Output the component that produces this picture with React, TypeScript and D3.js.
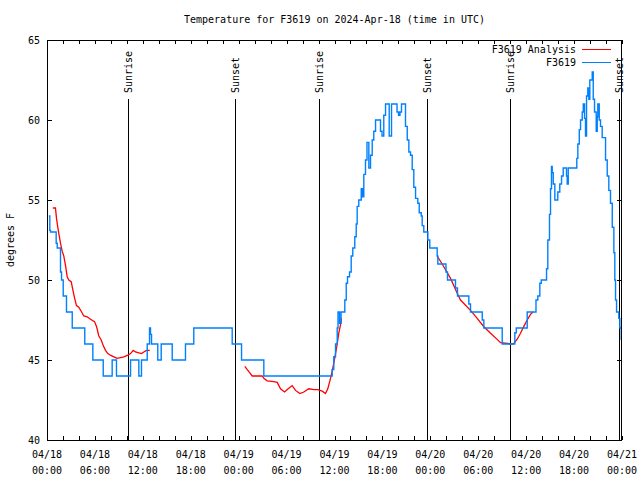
import React from "react";
import * as d3 from "d3";

// ---- data (hours since 2024-04-18 00:00 UTC) ----
const obsHours = [0.23,0.35,0.44,1.15,1.28,1.69,1.82,2.03,2.44,3.16,4.73,5.74,7.04,8.16,8.70,10.46,11.50,11.83,12.55,12.84,12.96,13.09,13.87,14.30,15.68,17.34,18.38,23.19,24.36,27.15,35.59,35.71,35.91,36.13,36.34,36.44,36.63,36.82,37.29,37.47,37.63,37.88,38.09,38.29,38.54,38.72,38.84,39.04,39.35,39.51,39.67,39.88,40.07,40.30,40.51,40.72,40.92,41.14,41.76,41.95,42.17,42.39,42.85,43.14,43.83,44.02,44.20,44.39,44.89,45.11,45.31,45.52,45.73,45.93,46.15,46.43,46.61,46.86,46.98,47.18,47.69,47.93,48.86,48.94,49.96,50.15,51.15,51.40,52.82,53.03,54.50,54.70,57.00,58.58,58.76,60.13,61.23,61.46,61.71,61.89,62.55,62.71,62.92,63.05,63.17,63.26,63.39,63.59,63.96,64.21,64.43,64.64,65.05,65.14,65.27,66.34,66.47,66.65,66.81,67.02,67.15,67.31,67.43,67.56,67.72,67.85,67.97,68.27,68.40,68.56,68.77,68.90,68.97,69.15,69.31,69.52,69.94,70.15,70.35,70.56,70.78,70.98,71.10,71.19,71.32,71.60,71.73,71.90,72.0];
const obsTemps = [54,53.1,53,52.3,52,50.5,50,49,48,47,46,45,44,45,44,45,44,45,46,47,46.6,46,45,46,45,46,47,46,45,44,44,44.4,45.2,46,47,48,47.3,48,48.75,49.8,50.2,50.5,51.5,52,52.7,53.5,54.6,55,55.7,55.2,56.6,57.5,58.6,57,57.8,58.75,59.3,60,59.3,59,60.3,61,59,61,60.5,60.3,60.5,61,59.6,58.75,58,57.8,56.9,55.8,55.1,54.8,54.2,54,53.4,53,52.5,52,51.5,51,50.5,50,49.5,49,48.5,48,47.5,47,46,46.7,47,48,48.75,49,49.8,50,50.7,52.5,54.1,55.7,57.1,56.7,56,55,55.5,56,56.5,57,56.5,56,57,57.6,58.5,59.4,60,60.5,61,60.1,59,61.5,62,61.3,62.5,63,61.3,60.5,59.3,60.2,61,60,59.6,58.9,57.5,56.5,55.6,54.8,53.3,51.7,50,48.75,48,47.6,47,46.3,46.3];

const anaHours1 = [0.73,1.06,1.19,1.35,1.48,1.69,1.90,2.10,2.32,2.53,2.73,3.03,3.23,3.44,3.69,3.98,4.28,4.61,5.03,5.45,5.95,6.20,6.49,6.79,7.04,7.33,7.61,7.95,8.36,8.79,9.20,9.62,10.12,10.46,10.79,11.08,11.50,11.83,12.12,12.46,12.87];
const anaTemps1 = [54.5,54.5,53.85,53.3,52.9,52.3,51.8,51.5,50.9,50.2,50,49.9,49.4,48.9,48.4,48.3,48.05,47.75,47.7,47.55,47.4,47.1,46.5,46.25,45.9,45.6,45.4,45.3,45.2,45.1,45.15,45.2,45.3,45.4,45.6,45.5,45.45,45.4,45.5,45.6,45.6];
const anaHours2 = [24.77,25.07,25.40,25.70,26.95,27.15,27.57,28.40,28.83,29.24,29.74,30.20,30.70,31.12,31.66,32.16,32.78,33.41,33.91,34.46,34.87,35.16,35.50,35.71,35.91,36.13,36.34,36.54,36.75,36.88];
const anaTemps2 = [44.6,44.4,44.2,44.0,44.0,43.85,43.7,43.65,43.6,43.2,43.0,43.2,43.4,43.1,42.9,43.0,43.2,43.15,43.15,43.05,42.9,43.2,43.85,44.3,44.8,45.4,46.0,46.7,47.2,47.6];
const anaHours3 = [48.86,49.69,50.53,51.37,51.78,53.03,53.87,54.70,55.54,56.37,56.79,58.25,58.45,58.88,59.29,59.71,60.13,60.54,60.86];
const anaTemps3 = [51.5,50.83,50.1,49.17,48.75,48.1,47.6,47.08,46.67,46.29,46.08,46.0,46.04,46.3,46.67,47.1,47.5,47.85,48.0];

const sunEvents = [
  { label: "Sunrise", time: "2024-04-18T10:06:00Z" },
  { label: "Sunset", time: "2024-04-18T23:32:00Z" },
  { label: "Sunrise", time: "2024-04-19T10:04:00Z" },
  { label: "Sunset", time: "2024-04-19T23:35:00Z" },
  { label: "Sunrise", time: "2024-04-20T10:02:00Z" },
  { label: "Sunset", time: "2024-04-20T23:36:00Z" },
];

const yTicks = [40, 45, 50, 55, 60, 65];
const title = "Temperature for F3619 on 2024-Apr-18 (time in UTC)";
const yLabel = "degrees F";
const legendNames = ["F3619 Analysis", "F3619"];
const colors = ["#ff0000", "#0080ff"];

const START = Date.UTC(2024, 3, 18, 0, 0);
const END = Date.UTC(2024, 3, 21, 0, 0);

const L = 47, R = 622, T = 40, B = 440;
const FONT = "'DejaVu Sans Mono', 'Liberation Mono', monospace";

export default function App() {
  const x = d3.scaleUtc().domain([new Date(START), new Date(END)]).range([L, R]);
  const y = d3.scaleLinear().domain([40, 65]).range([B, T]);
  const toDate = (h: number) => new Date(START + h * 3600e3);

  const obs = obsHours.map((h, i) => [toDate(h), obsTemps[i]] as [Date, number]);
  const stepLine = d3.line<[Date, number]>().x(d => x(d[0])).y(d => y(d[1])).curve(d3.curveStepAfter);
  const lin = d3.line<[Date, number]>().x(d => x(d[0])).y(d => y(d[1]));
  const segs = [
    [anaHours1, anaTemps1],
    [anaHours2, anaTemps2],
    [anaHours3, anaTemps3],
  ].map(([hs, ts]) => hs.map((h, i) => [toDate(h), ts[i]] as [Date, number]));

  const minor = d3.utcHour.every(2)!.range(new Date(START), new Date(END + 1));
  const major = d3.utcHour.every(6)!.range(new Date(START), new Date(END + 1));
  const fDay = d3.utcFormat("%m/%d");
  const fTime = d3.utcFormat("%H:%M");

  return (
    <svg width={640} height={480} style={{ position: "absolute", left: 0, top: 0, background: "#fff" }}
      fontFamily={FONT} fontSize={10}>
      <rect x={0} y={0} width={640} height={480} fill="#fff" />
      <text x={(L + R) / 2} y={23} textAnchor="middle" fill="#000">{title}</text>
      <text transform={`translate(14,${(T + B) / 2}) rotate(-90)`} textAnchor="middle" fill="#000">{yLabel}</text>

      <g shapeRendering="crispEdges" stroke="#000" strokeWidth={1}>
        {minor.map((d, i) => (
          <g key={i}>
            <line x1={Math.round(x(d)) + 0.5} x2={Math.round(x(d)) + 0.5} y1={B} y2={B - 4} />
            <line x1={Math.round(x(d)) + 0.5} x2={Math.round(x(d)) + 0.5} y1={T} y2={T + 4} />
          </g>
        ))}
        {yTicks.map((v, i) => (
          <g key={i}>
            <line x1={L} x2={L + 5} y1={Math.round(y(v)) + 0.5} y2={Math.round(y(v)) + 0.5} />
            <line x1={R} x2={R - 5} y1={Math.round(y(v)) + 0.5} y2={Math.round(y(v)) + 0.5} />
          </g>
        ))}
      </g>

      {yTicks.map((v, i) => (
        <text key={i} x={L - 7} y={y(v) + 4} textAnchor="end" fill="#000">{v}</text>
      ))}
      {major.map((d, i) => (
        <g key={i}>
          <text x={x(d)} y={458} textAnchor="middle" fill="#000">{fDay(d)}</text>
          <text x={x(d)} y={474} textAnchor="middle" fill="#000">{fTime(d)}</text>
        </g>
      ))}

      {sunEvents.map((s, i) => {
        const sx = Math.round(x(new Date(s.time))) + 0.5;
        return (
          <g key={i}>
            <line x1={sx} x2={sx} y1={99} y2={B} stroke="#000" strokeWidth={1} shapeRendering="crispEdges" />
            <text transform={`translate(${sx + 3},93) rotate(-90)`} textAnchor="start" fill="#000">{s.label}</text>
          </g>
        );
      })}

      {segs.map((sg, i) => (
        <path key={i} d={lin(sg)!} fill="none" stroke={colors[0]} strokeWidth={1.3} />
      ))}
      <path d={stepLine(obs)!} fill="none" stroke={colors[1]} strokeWidth={1.4} />

      {legendNames.map((n, i) => (
        <g key={i}>
          <text x={576} y={53 + i * 13} textAnchor="end" fill="#000">{n}</text>
          <line x1={582} x2={611} y1={49.5 + i * 13} y2={49.5 + i * 13} stroke={colors[i]} strokeWidth={1} shapeRendering="crispEdges" />
        </g>
      ))}

      <rect x={L + 0.5} y={T + 0.5} width={R - L - 1} height={B - T} fill="none" stroke="#000" strokeWidth={1} shapeRendering="crispEdges" />
    </svg>
  );
}
